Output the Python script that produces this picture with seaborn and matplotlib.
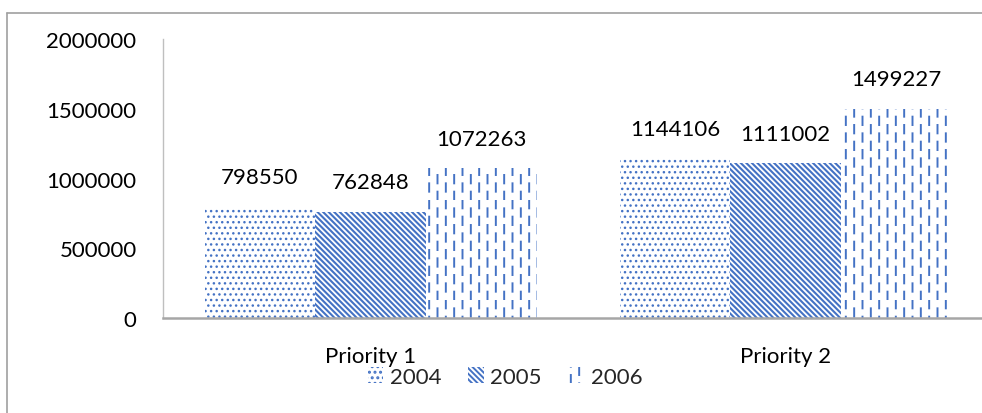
import numpy as np
import pandas as pd
import matplotlib
matplotlib.use("Agg")
import matplotlib.pyplot as plt
import matplotlib.hatch as mhatch
from matplotlib.path import Path
from matplotlib.patches import Patch
from matplotlib.lines import Line2D
import seaborn as sns

# ---- data ----
categories = ["Priority 1", "Priority 2"]
years = ["2004", "2005", "2006"]
values_2004 = [798550, 1144106]
values_2005 = [762848, 1111002]
values_2006 = [1072263, 1499227]
yticks = [0, 500000, 1000000, 1500000, 2000000]


# ---- custom staggered vertical-dash hatch (replaces '|') ----
class StaggeredVDash(mhatch.HatchPatternBase):
    def __init__(self, hatch, density):
        self.num_cols = int(hatch.count('|') * density)
        self.num_dash = int(hatch.count('|') * density // 2)
        self.num_vertices = self.num_cols * self.num_dash * 2

    def set_vertices_and_codes(self, vertices, codes):
        period = 1.0 / self.num_dash
        half = period / 2.0
        xs = (np.arange(self.num_cols) + 0.5) / self.num_cols
        idx = 0
        for i, x in enumerate(xs):
            off = half if i % 2 else 0.0
            for k in range(self.num_dash):
                y0 = k * period + off
                vertices[idx] = (x, y0)
                vertices[idx + 1] = (x, y0 + half)
                codes[idx] = Path.MOVETO
                codes[idx + 1] = Path.LINETO
                idx += 2


mhatch._hatch_types[:] = [StaggeredVDash if t is mhatch.VerticalHatch else t
                          for t in mhatch._hatch_types]

sns.set_theme(style="white")
plt.rcParams["font.family"] = ["Lato", "DejaVu Sans"]
plt.rcParams["hatch.linewidth"] = 1.4

BLUE = "#4472C4"
hatches = {"2004": "...", "2005": "\\" * 6, "2006": "||"}
hatch_lw = {"2004": 1.0, "2005": 1.5, "2006": 1.4}


def style_patch(p, yr):
    p.set_facecolor("white")
    p.set_edgecolor(BLUE)
    p.set_linewidth(0)
    p.set_hatch(hatches[yr])
    if hasattr(p, "set_hatch_linewidth"):
        p.set_hatch_linewidth(hatch_lw[yr])


df = pd.DataFrame({
    "category": categories * 3,
    "year": [y for y in years for _ in categories],
    "value": values_2004 + values_2005 + values_2006,
})

fig = plt.figure(figsize=(9.82, 4.14), dpi=100)
ax = fig.add_axes([163 / 982, 95 / 414, 830 / 982, 279 / 414])

sns.barplot(data=df, x="category", y="value", hue="year", order=categories,
            hue_order=years, palette=["white"] * 3, saturation=1,
            width=0.8, ax=ax, legend=False, errorbar=None)

for cont, yr in zip(ax.containers, years):
    for bar in cont:
        style_patch(bar, yr)
    ax.bar_label(cont, fmt="%d", padding=14, fontsize=16, color="black")

ax.set_ylim(0, 2000000)
ax.set_yticks(yticks)
ax.set_yticklabels([str(v) for v in yticks])
ax.set_xlim(-0.5, 1.5)
ax.set_xlabel("")
ax.set_ylabel("")
ax.tick_params(axis="y", length=0, pad=19, labelsize=16, labelcolor="black")
ax.tick_params(axis="x", length=0, pad=20, labelsize=16, labelcolor="black")
for s in ["top", "right"]:
    ax.spines[s].set_visible(False)
ax.spines["left"].set_color("#bfbfbf")
ax.spines["left"].set_linewidth(1.0)
ax.spines["bottom"].set_color("#a6a6a6")
ax.spines["bottom"].set_linewidth(1.8)
ax.grid(False)

handles = []
for y in years:
    h = Patch(label=y)
    style_patch(h, y)
    handles.append(h)
fig.legend(handles=handles, loc="center", bbox_to_anchor=(505 / 982, 36 / 414),
           ncol=3, frameon=False, fontsize=16, handlelength=0.7,
           handleheight=0.7, handletextpad=0.3, columnspacing=1.2)

# outer frame of the chart area
fx = 7 / 982
fy = 1 - 14 / 414
fig.add_artist(Line2D([fx, fx], [0, fy], transform=fig.transFigure,
                      color="#a0a0a0", linewidth=1.2))
fig.add_artist(Line2D([fx, 1], [fy, fy], transform=fig.transFigure,
                      color="#a0a0a0", linewidth=1.2))

fig.savefig("out.png", dpi=100)
